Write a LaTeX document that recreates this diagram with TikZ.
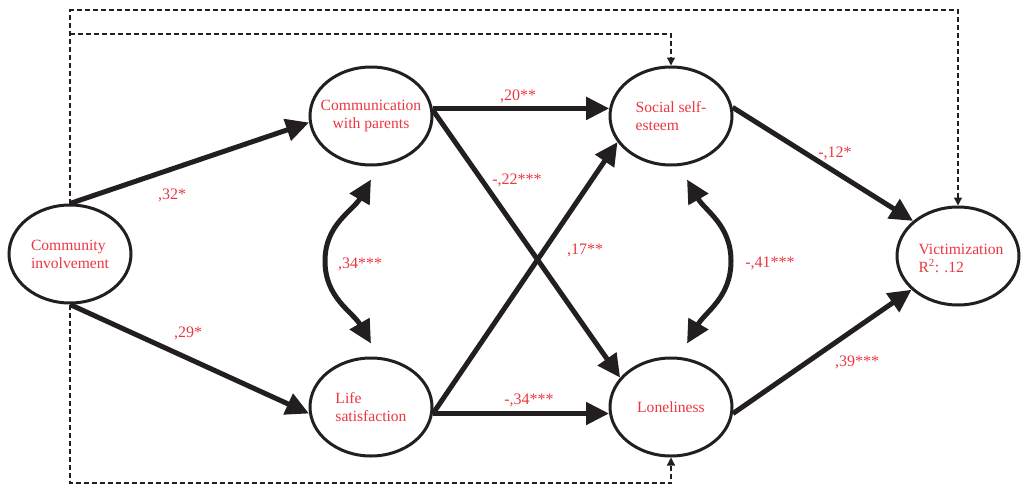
\documentclass[tikz,border=0pt]{standalone}
\usepackage{fontspec}
\setmainfont{Liberation Serif}
\usetikzlibrary{arrows.meta,shapes.geometric}
\definecolor{lbl}{RGB}{235,55,65}
\definecolor{ink}{RGB}{35,31,32}
\begin{document}
\begin{tikzpicture}[x=1pt,y=-1pt,
  var/.style={ellipse,draw=ink,line width=3pt,minimum width=122pt,minimum height=98pt,inner sep=0pt},
  vtext/.style={text=lbl,font=\fontsize{15.6}{18}\selectfont,align=left,inner sep=0pt},
  solidarrow/.style={draw=ink,line width=5pt,-{Triangle[length=23pt,width=22pt]}},
  dblarrow/.style={draw=ink,line width=5pt,{Triangle[length=23pt,width=22pt]}-{Triangle[length=23pt,width=22pt]}},
  dsh/.style={draw=ink,line width=1.3pt,dash pattern=on 5pt off 3pt,-{Triangle[length=8pt,width=8pt]}},
  lab/.style={text=lbl,font=\fontsize{16}{18}\selectfont,inner sep=0pt}]
\useasboundingbox (0,0) rectangle (1021,485);
% variables
\node[var,label={[vtext]center:{Community\\involvement}}] (ci) at (70,254) {};
\node[var,label={[vtext,align=center]center:{Communication\\with parents}}] (cp) at (371,116) {};
\node[var,label={[vtext]center:{Life\\satisfaction}}] (ls) at (371,407) {};
\node[var,label={[vtext]center:{Social self-\\esteem}}] (se) at (671,116) {};
\node[var,label={[vtext]center:{Loneliness}}] (lo) at (671,407) {};
\node[var,label={[vtext,xshift=3pt,yshift=-2pt]center:{Victimization\\R\textsuperscript{2}: .12}}] (vi) at (958,256) {};
% helper coordinates
\coordinate (top) at (0,10);
\coordinate (mid) at (0,34);
\coordinate (bot) at (0,483);
\coordinate (a1) at ([yshift=-13pt]cp.south);
\coordinate (a2) at ([yshift=13pt]ls.north);
\coordinate (am) at (325,261);
\coordinate (b1) at ([xshift=16pt,yshift=-13pt]se.south);
\coordinate (b2) at ([xshift=16pt,yshift=13pt]lo.north);
\coordinate (bm) at (731,261);
% dashed direct paths
\draw[dsh] (ci.north) -- (ci.north |- top) -| (vi.north);
\draw[dsh] (ci.north |- mid) -| (se.north);
\draw[dsh] (ci.south) -- (ci.south |- bot) -| (lo.south);
% solid paths
\draw[solidarrow] (ci.north) -- (cp.186);
\draw[solidarrow] (ci.south) -- (ls.186);
\draw[solidarrow] (cp.7) -- (se.173);
\draw[solidarrow] (cp.5) -- (lo.150);
\draw[solidarrow] (ls.354) -- (se.206);
\draw[solidarrow] (ls.354) -- (lo.186);
\draw[solidarrow] (se.8) -- (vi.142);
\draw[solidarrow] (lo.354) -- (vi.216);
% covariances
\draw[dblarrow] (a1) to[out=240,in=90] (am) to[out=270,in=120] (a2);
\draw[dblarrow] (b1) to[out=300,in=90] (bm) to[out=270,in=60] (b2);
% labels
\node[lab] (l1) at (172,195) {,32*};
\node[lab] (l2) at (188,333) {,29*};
\node[lab] (l3) at (360,264) {,34***};
\node[lab] (l4) at (518,96) {,20**};
\node[lab] (l5) at (517,180) {-,22***};
\node[lab] (l6) at (585,250) {,17**};
\node[lab] (l7) at (835,153) {-,12*};
\node[lab] (l8) at (770,263) {-,41***};
\node[lab] (l9) at (857,362) {,39***};
\node[lab] (l10) at (529,400) {-,34***};
\end{tikzpicture}
\end{document}
